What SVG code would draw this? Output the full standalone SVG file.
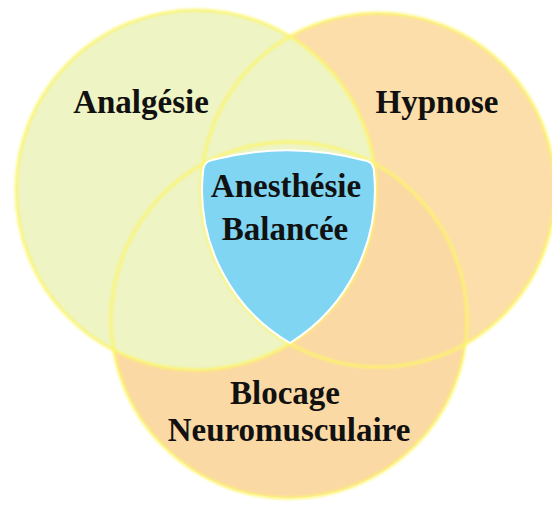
<svg xmlns="http://www.w3.org/2000/svg" width="552" height="512" viewBox="0 0 552 512">
  <style>
    .lbl { font-family: "Liberation Serif", "Times New Roman", serif; font-weight: bold; font-size: 33px; fill: #111; text-anchor: middle; }
    .ring { fill: none; stroke: #fcf56a; stroke-width: 3.5; stroke-opacity: 0.75; }
  </style>
  <defs>
    <filter id="soft" x="-10%" y="-10%" width="120%" height="120%">
      <feGaussianBlur stdDeviation="0.8"/>
    </filter>
  </defs>
  <rect width="552" height="512" fill="#ffffff"/>
  <g id="hypnose">
    <circle cx="378" cy="190" r="177" fill="#fcdeaa"/>
  </g>
  <g id="blocage">
    <circle cx="289" cy="320" r="178" fill="#fbd9a4"/>
  </g>
  <g id="analgesie">
    <circle cx="196" cy="190" r="180" fill="#eef4c3"/>
  </g>
  <g id="outlines" filter="url(#soft)">
    <circle class="ring" cx="378" cy="190" r="177"/>
    <circle class="ring" cx="289" cy="320" r="178"/>
    <circle class="ring" cx="196" cy="190" r="180"/>
  </g>
  <g id="anesthesie-balancee">
    <path d="M212,160 Q289,140 367,161 Q374,163 374,172 A180,180 0 0 1 290,343 A177,177 0 0 1 203,172 Q203,162 212,160 Z" fill="#7fd5f2" stroke="#ffffff" stroke-width="2"/>
  </g>
  <g id="labels">
    <text class="lbl" x="141" y="113">Analgésie</text>
    <text class="lbl" x="437" y="113">Hypnose</text>
    <text class="lbl" x="286" y="197">Anesthésie</text>
    <text class="lbl" x="285" y="240">Balancée</text>
    <text class="lbl" x="285" y="404">Blocage</text>
    <text class="lbl" x="289" y="441">Neuromusculaire</text>
  </g>
</svg>
